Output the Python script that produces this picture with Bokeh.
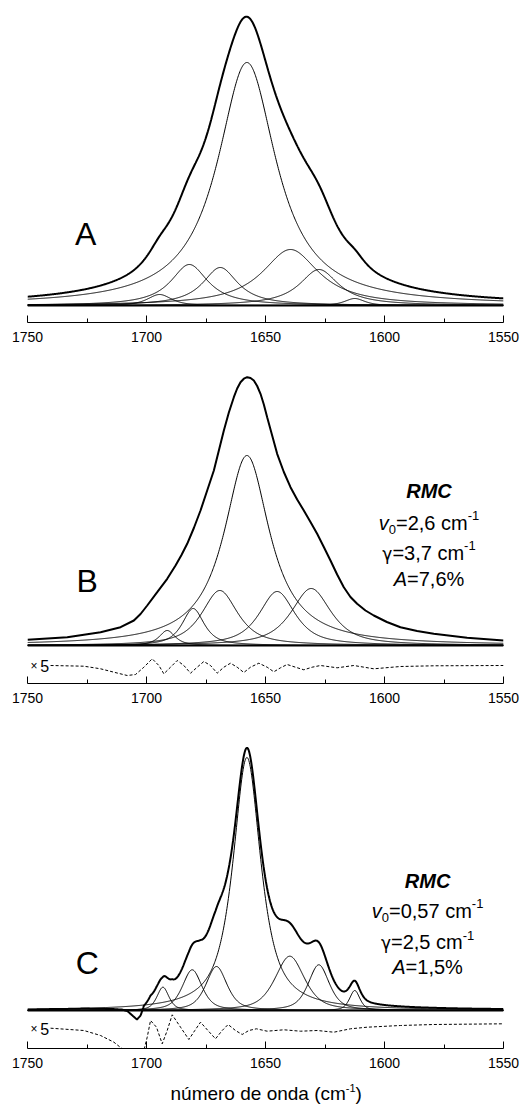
import numpy as np
from bokeh.plotting import figure
from bokeh.layouts import column
from bokeh.models import Label, Range1d, FixedTicker
from bokeh.embed import file_html
from bokeh.resources import INLINE

# ---------------- data ----------------
tick_values = [1750, 1700, 1650, 1600, 1550]
tick_labels = ["1750", "1700", "1650", "1600", "1550"]
minor_values = [1725, 1675, 1625, 1575]

# Panel A: band components (centre cm-1, height, FWHM cm-1, Lorentz fraction)
a_center = [1694.5, 1682.0, 1669.0, 1657.8, 1639.5, 1627.5, 1612.5]
a_height = [11, 41, 38, 243, 56, 36, 7]
a_fwhm = [12, 19, 18, 30, 29, 20, 10]
a_eta = [0.7, 1.0, 1.0, 1.0, 1.0, 1.0, 0.7]

# Panel B: band components
b_center = [1691.3, 1680.4, 1669.2, 1657.8, 1645.1, 1630.8]
b_height = [15, 37, 55, 190, 54, 57]
b_fwhm = [8, 11, 18, 23.4, 18, 20]
b_eta = [0.8, 0.8, 0.8, 1.0, 0.8, 0.8]

# Panel B: measured spectrum (envelope)
b_env_wn = [1750, 1733.3, 1719.3, 1710.9, 1705.3, 1702.5, 1699.7, 1695.5, 1691.3, 1687.8,
            1685.3, 1682.9, 1680.1, 1677.3, 1674.5, 1671.7, 1669.6, 1667.5, 1665.4,
            1663.3, 1661.9, 1660.5, 1659.1, 1657.7, 1656.3, 1654.9, 1653.5, 1652.1,
            1650.7, 1649.3, 1647.2, 1645.1, 1642.3, 1639.5, 1636.7, 1633.9, 1631.1,
            1628.3, 1625.5, 1622.7, 1619.9, 1617.1, 1614.3, 1611.5, 1608.0, 1604.5,
            1599.0, 1593.3, 1586.3, 1579.3, 1565.3, 1550]
b_env_val = [5.7, 8.3, 13.3, 18.3, 25, 31.5, 40, 53.3, 66.7, 80,
             90.5, 101.7, 117.5, 135, 155, 175, 195, 215, 233,
             248.3, 257, 263.3, 266.8, 268.3, 267.5, 265, 259.5, 251.7,
             241, 228.3, 210, 191.7, 173.5, 158.3, 146, 135, 123.5,
             111.7, 98.5, 85, 71, 58.3, 48.5, 41.7, 35, 30,
             23.5, 18.3, 14.5, 11.7, 7.7, 5]

# Panel B: residual (x5)
b_res_wn = [1740.3, 1726.3, 1719.3, 1713.7, 1708.1, 1704.6, 1701.1, 1697.6, 1694.8,
            1692.7, 1689.9, 1687.1, 1684.3, 1681.5, 1678.7, 1675.9, 1673.1, 1670.3,
            1667.5, 1664.7, 1661.9, 1659.1, 1656.3, 1652.8, 1649.3, 1646.5, 1643.7,
            1640.9, 1637.4, 1633.9, 1630.4, 1626.9, 1619.9, 1612.9, 1604.5, 1593.3,
            1579.3, 1550.0]
b_res_val = [0, -0.7, -3.3, -6.7, -10, -9, -1.7, 6.7, 0,
             -8.3, -1.7, 5, 0, -7.7, -1.7, 4, 0, -7.7,
             -1.7, 2.3, -1.7, -7, -1.7, 2.3, -1.7, -6.3, -2.3,
             1, -1.7, -4.3, -1.7, 0, -2.3, 0, -3.3, -1,
             -0.3, 0]

# Panel C: band components
c_center = [1693.1, 1680.8, 1670.6, 1657.8, 1639.8, 1627.6, 1612.5]
c_height = [23.3, 40.7, 44, 253, 54.3, 45.7, 20]
c_fwhm = [6, 9.8, 10.5, 14, 14.7, 10.5, 5.2]
c_eta = [0.6, 0.6, 0.6, 0.85, 0.6, 0.6, 0.6]

# Panel C: residual (x5)
c_res_wn = [1740.3, 1726.3, 1719.3, 1713.7, 1710.2, 1708.0, 1706.0, 1704.0, 1702.5,
            1701.5, 1701.1, 1699.7, 1698.3, 1695.8, 1693.4, 1691.3, 1689.2, 1685.7,
            1682.2, 1679.7, 1677.3, 1674.2, 1671.0, 1668.2, 1665.7, 1662.6, 1659.8,
            1657.0, 1653.8, 1649.3, 1642.3, 1635.3, 1628.3, 1621.3, 1614.3, 1607.3,
            1593.3, 1579.3, 1550.0]
c_res_val = [-3.7, -6, -11, -17.7, -24.3, -35, -60, -85, -70,
             -40, -26, -12.7, 4, -2.7, -19.3, -6, 9.7, -2.7,
             -15, -6, 2.3, -6, -14.3, -6, 0, -6, -10,
             -6, -4.3, -6.7, -5.3, -6.7, -6, -7.7, -4.3, -2.7,
             -1, 0, 0.7]

RES_SCALE = 5

# ---------------- helpers ----------------
FONT = "Liberation Sans"
GFONT = "DejaVu Sans"
WID = {' ': 278, ',': 278, '.': 278, '=': 584, '%': 889, '-': 333, '(': 333, ')': 333,
       'c': 500, 'm': 833, 'v': 500, 'A': 667, 'R': 722, 'M': 833, 'C': 722,
       '\u03b3': 592, 'n': 556, '\u00fa': 556, 'e': 556, 'r': 333, 'o': 556,
       'd': 556, 'a': 556, '\u00d7': 584}
MID = 0.35  # vertical middle of the text box above the baseline (em)


def tw(s, size):
    return sum(WID.get(ch, 556) for ch in s) * size / 1000.0


def band(x, c, h, w, eta):
    d = (x - c) / w
    lor = 1.0 / (1.0 + 4.0 * d * d)
    gau = np.exp(-4.0 * np.log(2.0) * d * d)
    return h * (eta * lor + (1.0 - eta) * gau)


grid = np.linspace(1550, 1750, 1001)

FRAME_W = 476
BORDER_L = 27
BORDER_R = 24
TOTAL_W = BORDER_L + FRAME_W + BORDER_R


def make_fig(height, ybot, ytop, bottom_border, with_axis=True):
    p = figure(width=TOTAL_W, height=height, output_backend="svg", toolbar_location=None,
               x_range=Range1d(1750, 1550), y_range=Range1d(ybot, ytop),
               y_axis_location=None, x_axis_location="below" if with_axis else None,
               min_border_left=BORDER_L, min_border_right=BORDER_R,
               min_border_top=0, min_border_bottom=bottom_border)
    p.outline_line_color = None
    p.grid.visible = False
    p.background_fill_color = "white"
    p.border_fill_color = "white"
    if with_axis:
        ax = p.xaxis[0]
        ax.ticker = FixedTicker(ticks=tick_values, minor_ticks=minor_values)
        ax.major_label_overrides = {v: l for v, l in zip(tick_values, tick_labels)}
        ax.axis_line_color = "black"
        ax.axis_line_width = 1
        ax.major_tick_in = 7
        ax.major_tick_out = 0
        ax.minor_tick_in = 4
        ax.minor_tick_out = 0
        ax.major_tick_line_color = "black"
        ax.minor_tick_line_color = "black"
        ax.major_label_text_font = FONT
        ax.major_label_text_font_size = "14px"
        ax.major_label_text_color = "black"
        ax.major_label_standoff = 9
    return p


def draw_bands(p, centers, heights, fwhms, etas):
    total = np.zeros_like(grid)
    for c, h, w, e in zip(centers, heights, fwhms, etas):
        y = band(grid, c, h, w, e)
        total += y
        p.line(grid, y, line_color="black", line_width=1)
    return total


def rich(p, x, ymid, segs, main):
    """segs: (text, size, style, baseline shift px, font); ymid = middle of main text."""
    widths = [tw(t, s) for (t, s, st, dy, f) in segs]
    off = -sum(widths) / 2.0
    for (t, s, st, dy, f), w in zip(segs, widths):
        yo = dy + MID * s - MID * main
        p.add_layout(Label(x=x, y=ymid, x_offset=off, y_offset=yo, text=t,
                           text_font=f, text_font_size=f"{s}px", text_font_style=st,
                           text_baseline="middle", text_align="left",
                           text_color="black"))
        off += w


def letter(p, x, y, t):
    p.add_layout(Label(x=x, y=y, text=t, text_font=FONT, text_font_size="32px",
                       text_baseline="middle", text_align="center", text_color="black"))


def res_label(p, y):
    p.add_layout(Label(x=1748.7, y=y, text="\u00d7", text_font=FONT, text_font_size="12px",
                       text_baseline="middle", text_align="left", text_color="black"))
    p.add_layout(Label(x=1744.6, y=y, text="5", text_font=FONT, text_font_size="16px",
                       text_baseline="middle", text_align="left", text_color="black"))


def annot(p, x, ys, v0, gam, amp):
    rich(p, x, ys[0], [("RMC", 20, "bold italic", 0, FONT)], 20)
    rich(p, x, ys[1], [("v", 20, "italic", 0, FONT), ("0", 13, "normal", -5, FONT),
                       ("=" + v0 + " cm", 20, "normal", 0, FONT), ("-1", 13, "normal", 9, FONT)], 20)
    rich(p, x, ys[2], [("\u03b3", 17, "normal", 0, GFONT), ("=" + gam + " cm", 20, "normal", 0, FONT),
                       ("-1", 13, "normal", 9, FONT)], 20)
    rich(p, x, ys[3], [("A", 20, "italic", 0, FONT), ("=" + amp + "%", 20, "normal", 0, FONT)], 20)


# ---------------- panel A ----------------
pA = make_fig(346, -17, 305, 24)
envA = draw_bands(pA, a_center, a_height, a_fwhm, a_eta)
pA.line(grid, envA, line_color="black", line_width=2)
pA.line([1750, 1550], [0, 0], line_color="black", line_width=2)
letter(pA, 1725.6, 72, "A")

# ---------------- panel B ----------------
pB = make_fig(361, -38, 299, 24)
draw_bands(pB, b_center, b_height, b_fwhm, b_eta)
pB.line(b_env_wn, b_env_val, line_color="black", line_width=2)
pB.line([1750, 1550], [0, 0], line_color="black", line_width=2)
B_RES0 = -20
pB.line(b_res_wn, [B_RES0 + v for v in b_res_val], line_color="black", line_width=1,
        line_dash="3 2")
res_label(pB, -20.8)
letter(pB, 1724.9, 64.5, "B")
annot(pB, 1581.3, [155, 123, 93, 66.7], "2,6", "3,7", "7,6")

# ---------------- panel C ----------------
pC = make_fig(367, -38, 303, 26)
sumC = draw_bands(pC, c_center, c_height, c_fwhm, c_eta)
order = np.argsort(c_res_wn)
resC = np.interp(grid, np.array(c_res_wn)[order], np.array(c_res_val)[order])
envC = sumC + resC / RES_SCALE
pC.line(grid, envC, line_color="black", line_width=2)
pC.line([1750, 1550], [0, 0], line_color="black", line_width=2)
C_RES0 = -14
pC.line(c_res_wn, [C_RES0 + v for v in c_res_val], line_color="black", line_width=1,
        line_dash="3 2")
res_label(pC, -18)
letter(pC, 1724.9, 47.5, "C")
annot(pC, 1581.9, [130, 100, 68.3, 43.3], "0,57", "2,5", "1,5")

# ---------------- axis title strip ----------------
pT = make_fig(34, 0, 34, 0, with_axis=False)
rich(pT, 1649.7, 15.5, [("n\u00famero de onda (cm", 19, "normal", 0, FONT),
                        ("-1", 11, "normal", 8, FONT), (")", 19, "normal", 0, FONT)], 19)

layout = column(pA, pB, pC, pT, spacing=0)
open("out.html", "w").write(file_html(layout, INLINE))
